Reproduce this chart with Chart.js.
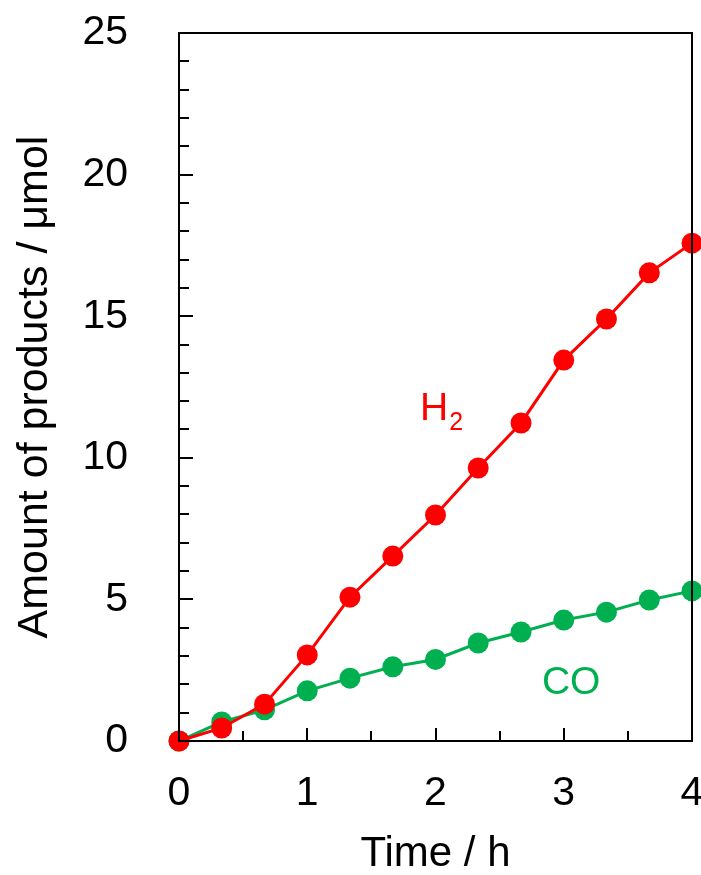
<!DOCTYPE html>
<html>
<head>
<meta charset="utf-8">
<script src="https://cdn.jsdelivr.net/npm/chart.js@4.4.1/dist/chart.umd.min.js"></script>
<style>
  html, body { margin: 0; padding: 0; background: #ffffff; }
  #c { display: block; }
</style>
</head>
<body>
<canvas id="c" width="701" height="875"></canvas>
<script>
const timeH = [0, 0.333, 0.667, 1.0, 1.333, 1.667, 2.0, 2.333, 2.667, 3.0, 3.333, 3.667, 4.0];
const h2Values = [0, 0.46, 1.3, 3.04, 5.08, 6.53, 7.98, 9.64, 11.23, 13.45, 14.9, 16.53, 17.58];
const coValues = [0, 0.67, 1.1, 1.77, 2.22, 2.62, 2.88, 3.46, 3.85, 4.27, 4.55, 4.98, 5.3];
const xTickLabels = ['0', '1', '2', '3', '4'];
const yTickLabels = ['0', '5', '10', '15', '20', '25'];
const seriesNames = ['H', 'CO'];

const RED = '#FF0000';
const GREEN = '#00B050';
const FONT = '"Liberation Sans", Arial, sans-serif';

const frameAndTicks = {
  id: 'frameAndTicks',
  afterDatasetsDraw(chart) {
    const ctx = chart.ctx;
    const a = chart.chartArea;
    const xs = chart.scales.x, ys = chart.scales.y;
    ctx.save();
    ctx.strokeStyle = '#000';
    ctx.lineWidth = 2;
    ctx.beginPath();
    for (let v = 1; v < 25; v++) {
      const py = Math.round(ys.getPixelForValue(v));
      const len = (v % 5 === 0) ? 14 : 10;
      ctx.moveTo(a.left, py);
      ctx.lineTo(a.left + len, py);
    }
    for (let i = 1; i < 8; i++) {
      const v = i * 0.5;
      const px = Math.round(xs.getPixelForValue(v));
      const len = (i % 2 === 0) ? 13 : 10;
      ctx.moveTo(px, a.bottom);
      ctx.lineTo(px, a.bottom - len);
    }
    ctx.stroke();
    ctx.strokeRect(a.left, a.top, a.right - a.left, a.bottom - a.top);
    ctx.restore();
  },
  afterDraw(chart) {
    const ctx = chart.ctx;
    const xs = chart.scales.x, ys = chart.scales.y;
    ctx.save();
    ctx.textBaseline = 'alphabetic';
    ctx.textAlign = 'left';
    let px = xs.getPixelForValue(1.88), py = ys.getPixelForValue(11.33);
    ctx.fillStyle = RED;
    ctx.font = '39px ' + FONT;
    ctx.fillText(seriesNames[0], px, py);
    const w = ctx.measureText(seriesNames[0]).width;
    ctx.font = '25px ' + FONT;
    ctx.fillText('2', px + w + 1, py + 10);
    px = xs.getPixelForValue(2.83); py = ys.getPixelForValue(1.66);
    ctx.fillStyle = GREEN;
    ctx.font = '39px ' + FONT;
    ctx.fillText(seriesNames[1], px, py);
    ctx.restore();
  }
};

function toXY(xv, yv) { return xv.map((x, i) => ({ x: x, y: yv[i] })); }

new Chart(document.getElementById('c'), {
  type: 'line',
  data: {
    datasets: [
      {
        label: 'H2',
        data: toXY(timeH, h2Values),
        borderColor: RED,
        backgroundColor: RED,
        borderWidth: 3,
        pointRadius: 10.5,
        pointBorderWidth: 0,
        pointBackgroundColor: RED,
        tension: 0
      },
      {
        label: 'CO',
        data: toXY(timeH, coValues),
        borderColor: GREEN,
        backgroundColor: GREEN,
        borderWidth: 3,
        pointRadius: 10.5,
        pointBorderWidth: 0,
        pointBackgroundColor: GREEN,
        tension: 0
      }
    ]
  },
  options: {
    responsive: false,
    animation: false,
    devicePixelRatio: 1,
    clip: false,
    layout: { autoPadding: false, padding: { left: 0, right: 9, top: 33, bottom: 0 } },
    plugins: { legend: { display: false }, tooltip: { enabled: false } },
    scales: {
      x: {
        type: 'linear',
        min: 0, max: 4,
        afterFit(s) { s.height = 134; s.paddingLeft = 0; s.paddingRight = 0; },
        afterBuildTicks(s) { s.ticks = xTickLabels.map(t => ({ value: Number(t) })); },
        grid: { display: false, drawTicks: false },
        border: { display: false },
        ticks: {
          color: '#000',
          font: { family: FONT, size: 41 },
          padding: 28,
          maxRotation: 0,
          callback: (v) => String(v)
        },
        title: {
          display: true,
          text: 'Time / h',
          color: '#000',
          font: { family: FONT, size: 42, lineHeight: 1 },
          padding: { top: 0, bottom: 0 }
        }
      },
      y: {
        type: 'linear',
        min: 0, max: 25,
        afterFit(s) { s.width = 179; s.paddingTop = 0; s.paddingBottom = 0; },
        afterBuildTicks(s) { s.ticks = yTickLabels.map(t => ({ value: Number(t) })); },
        grid: { display: false, drawTicks: false },
        border: { display: false },
        ticks: {
          color: '#000',
          font: { family: FONT, size: 41 },
          padding: 51,
          callback: (v) => String(v)
        },
        title: {
          display: true,
          text: 'Amount of products / μmol',
          color: '#000',
          font: { family: FONT, size: 43, lineHeight: 1 },
          padding: { top: 14, bottom: 0 }
        }
      }
    }
  },
  plugins: [frameAndTicks]
});
</script>
</body>
</html>
